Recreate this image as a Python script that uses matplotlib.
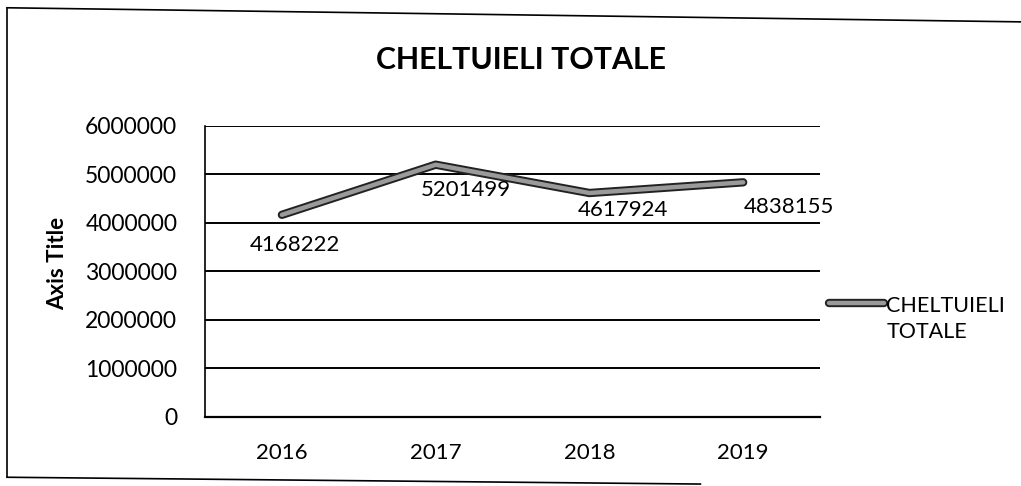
import matplotlib.pyplot as plt
import matplotlib.patheffects as pe
from matplotlib.lines import Line2D

years = ['2016', '2017', '2018', '2019']
totals = [4168222, 5201499, 4617924, 4838155]
series_name = 'CHELTUIELI\nTOTALE'
yticks = [0, 1000000, 2000000, 3000000, 4000000, 5000000, 6000000]

plt.rcParams['font.family'] = ['Lato', 'DejaVu Sans']

fig = plt.figure(figsize=(10.21, 4.86), dpi=100)
ax = fig.add_axes([0.2008, 0.142, 0.6024, 0.5988])

x = list(range(len(years)))
line_fx = [pe.Stroke(linewidth=6, foreground='#222222'), pe.Normal()]
ax.plot(x, totals, color='#9a9a9a', lw=3.2, solid_capstyle='round',
        path_effects=line_fx, zorder=3)

# data labels (offsets in pixels, as in the original)
offsets = [(13, -30), (30, -25), (34, -17), (46, -25)]
for xi, v, off in zip(x, totals, offsets):
    ax.annotate(str(v), (xi, v), xytext=off, textcoords='offset pixels',
                ha='center', va='center', fontsize=16, color='black')

ax.set_xlim(-0.5, len(years) - 0.5)
ax.set_ylim(0, 6000000)
ax.set_yticks(yticks)
ax.set_yticklabels([str(t) for t in yticks], fontsize=16.5)
ax.set_xticks(x)
ax.set_xticklabels(years, fontsize=16)
ax.tick_params(length=0)
ax.tick_params(axis='y', pad=20)
ax.tick_params(axis='x', pad=19)
ax.grid(axis='y', color='black', lw=1.4)
ax.set_axisbelow(True)
for s in ['top', 'right']:
    ax.spines[s].set_visible(False)
ax.spines['left'].set_linewidth(1.2)
ax.spines['bottom'].set_linewidth(1.6)
ax.set_ylabel('Axis Title', fontsize=16, fontweight='bold')
ax.yaxis.set_label_coords(-0.223, 0.526)

fig.text(0.51, 0.877, 'CHELTUIELI TOTALE', ha='center', va='center',
         fontsize=21.8, fontweight='bold')

# legend: line sample + two-line series name
fig.add_artist(Line2D([0.812, 0.866], [0.3765, 0.3765], color='#9a9a9a',
                      lw=3.2, solid_capstyle='round', path_effects=line_fx))
fig.text(0.868, 0.3436, series_name, ha='left', va='center',
         fontsize=15.5, linespacing=1.4)

# outer chart border (left, top, bottom)
fig.add_artist(Line2D([0.007, 0.007], [0.018, 0.984], color='black', lw=1.2))
fig.add_artist(Line2D([0.007, 1.0], [0.984, 0.955], color='black', lw=1.2))
fig.add_artist(Line2D([0.007, 0.686], [0.018, 0.004], color='black', lw=1.2))

fig.savefig('out.png', dpi=100)
